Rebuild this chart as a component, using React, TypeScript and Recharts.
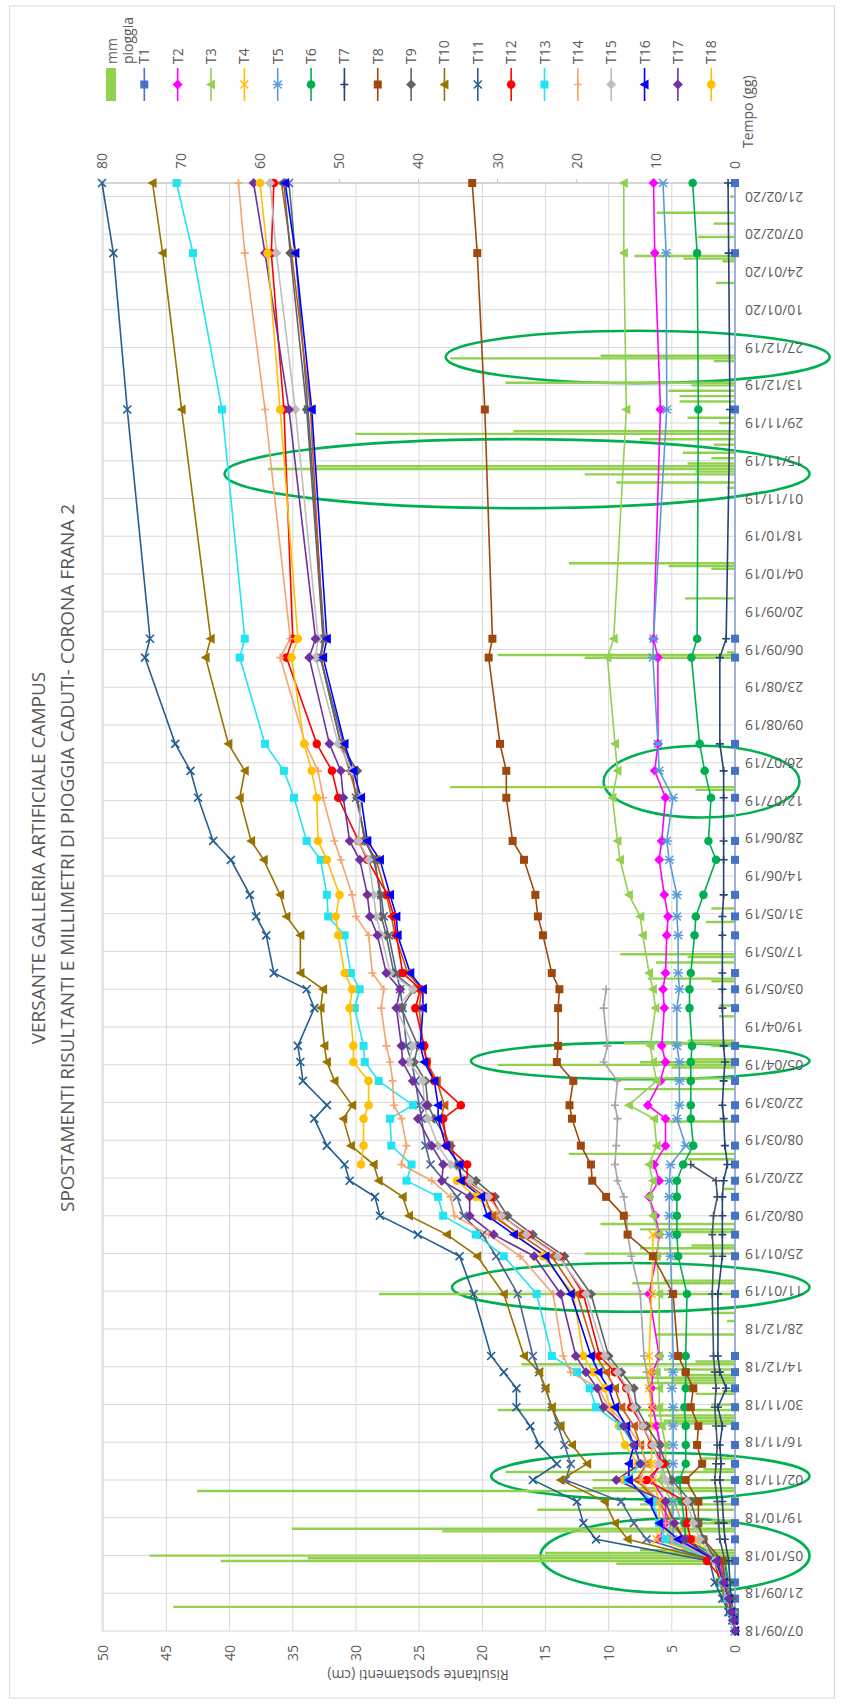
import React from "react";
import {
  Bar,
  CartesianGrid,
  ComposedChart,
  Line,
  ReferenceArea,
  XAxis,
  YAxis,
} from "recharts";

// chart is drawn landscape and turned a quarter turn to the left
const W = 1704;
const H = 842;
const _ = null;

const DATE_LABELS = [
  "07/09/18", "21/09/18", "05/10/18", "19/10/18", "02/11/18", "16/11/18", "30/11/18",
  "14/12/18", "28/12/18", "11/01/19", "25/01/19", "08/02/19", "22/02/19", "08/03/19",
  "22/03/19", "05/04/19", "19/04/19", "03/05/19", "17/05/19", "31/05/19", "14/06/19",
  "28/06/19", "12/07/19", "26/07/19", "09/08/19", "23/08/19", "06/09/19", "20/09/19",
  "04/10/19", "18/10/19", "01/11/19", "15/11/19", "29/11/19", "13/12/19", "27/12/19",
  "10/01/20", "24/01/20", "07/02/20", "21/02/20",
];
const CM_TICKS = [0, 5, 10, 15, 20, 25, 30, 35, 40, 45, 50];
const MM_TICKS = [0, 10, 20, 30, 40, 50, 60, 70, 80];

// survey days (days since 07/09/18)
const DAYS = [
  0, 4, 7, 12, 18, 26, 34, 40, 48, 56,
  62, 69, 76, 83, 90, 96, 102, 125, 139, 147,
  154, 161, 167, 173, 180, 190, 195, 204, 211, 217,
  231, 238, 244, 258, 265, 273, 286, 293, 309, 319,
  329, 361, 368, 453, 511, 537,
];

const T1 = [
  0, 0, 0, 0, 0, 0, 0, 0, 0, 0,
  0, 0, 0, 0, 0, 0, 0, 0, 0, 0,
  0, 0, 0, 0, 0, 0, 0, 0, 0, 0,
  0, 0, 0, 0, 0, 0, 0, 0, 0, 0,
  0, 0, 0, 0, 0, 0,
];
const T2 = [
  0, 0.2, 0.3, 0.5, 0.8, 1.2, 6.0, 5.5, 5.5, 6.6,
  6.0, 5.9, 6.2, 6.5, 6.6, 6.5, 6.0, 6.8, 6.2, 6.0,
  6.3, 6.8, 6.0, 6.4, 5.5, 5.5, 6.9, 5.9, 5.5, 5.8,
  5.6, 5.7, 5.5, 5.4, 5.3, 5.6, 6.0, 5.8, 5.5, 6.35,
  6.1, 6.1, 6.45, 5.9, 6.35, 6.45,
];
const T3 = [
  0, 0.1, 0.3, 0.5, 0.7, 1.0, 5.5, 5.0, 5.0, 6.0,
  5.5, 5.5, 5.8, 6.0, 6.0, 6.2, 6.0, 6.0, 6.2, 6.0,
  6.5, 6.8, 6.5, 6.8, 6.2, 6.4, 8.4, 6.2, 6.5, 6.7,
  6.3, 6.5, 6.8, 7.3, 7.5, 8.4, 9.1, 9.3, 9.7, 9.3,
  9.5, 10.1, 9.6, 8.6, 8.8, 8.8,
];
const T4 = [
  0, 0.1, 0.3, 0.5, 0.8, 1.0, 6.2, 6.0, 6.0, 6.5,
  6.6, 6.6, 6.7, 6.6, 6.8, 6.7, 6.8, 6.6, 6.5, 6.5,
  _, _, _, _, _, _, _, _, _, _,
  _, _, _, _, _, _, _, _, _, _,
  _, _, _, _, _, _,
];
const T5 = [
  0, 0.1, 0.2, 0.4, 0.6, 1.0, 4.9, 4.9, 4.9, 4.9,
  4.9, 4.9, 4.9, 4.9, 5.0, 4.9, 4.9, 5.0, 5.1, 5.2,
  5.2, 5.2, 5.2, 5.1, 3.9, 4.6, 4.4, 4.4, 4.4, 4.6,
  4.6, 4.4, 4.5, 4.5, 4.6, 4.6, 5.2, 5.4, 4.9, 6.0,
  6.1, 6.5, 6.45, 5.4, 5.45, 5.7,
];
const T6 = [
  0, 0.1, 0.2, 0.3, 0.5, 0.8, 3.9, 4.0, 4.2, 4.4,
  3.9, 3.9, 3.9, 4.0, 3.9, 3.9, 3.9, 3.8, 4.5, 4.6,
  4.6, 4.6, 4.6, 4.1, 3.3, 3.5, 3.5, 3.5, 3.5, 3.4,
  3.6, 3.6, 3.5, 3.2, 3.1, 2.5, 1.5, 2.1, 1.9, 2.4,
  2.8, 3.45, 3.0, 2.9, 3.0, 3.35,
];
const T7 = [
  0, 0.1, 0.2, 0.3, 0.4, 0.5, 0.8, 0.9, 1.0, 1.2,
  1.1, 1.2, 1.0, 1.35, 0.7, 1.2, 1.35, 1.35, 1.0, 1.0,
  1.0, 1.0, 0.9, 0.6, 0.8, 0.9, 1.0, 0.9, 0.8, 0.9,
  1.0, 1.0, 1.0, 1.0, 1.0, 0.9, 0.9, 0.9, 0.9, 0.9,
  1.2, 1.2, 0.7, 0.4, 0.5, 0.55,
];
const T8 = [
  0, 0.1, 0.2, 0.4, 0.8, 1.0, 2.5, 2.9, 2.9, 3.9,
  2.6, 3.0, 2.9, 3.5, 3.3, 3.9, 4.5, 4.9, 6.5, 8.5,
  8.8, 10.2, 11.3, 11.4, 12.2, 12.9, 13.1, 12.8, 14.1, 14.0,
  14.0, 13.9, 14.5, 15.2, 15.6, 15.8, 16.7, 17.6, 18.1, 18.1,
  18.6, 19.5, 19.2, 19.8, 20.4, 20.8,
];
const T9 = [
  0, 0.1, 0.2, 0.5, 0.8, 1.5, 2.5, 3.0, 3.5, 5.0,
  5.5, 6.0, 7.0, 7.8, 8.0, 9.0, 10.0, 11.4, 13.5, 16.0,
  18.0, 19.0, 20.5, 22.0, 22.5, 23.8, 24.3, 24.5, 25.4, 25.1,
  26.4, 25.4, 27.0, 27.6, 28.0, 28.1, 28.5, 29.3, 29.9, 29.9,
  31.2, 32.8, 32.6, 33.9, 35.2, 35.7,
];
const T10 = [
  0, 0.1, 0.4, 0.8, 1.2, 1.6, 8.5, 9.5, 10.3, 13.8,
  11.7, 12.9, 13.8, 14.5, 15.0, 15.5, 16.7, 18.3, 20.4, 22.8,
  25.8, 26.3, 28.2, 28.6, 30.4, 31.0, 30.3, 31.7, 32.3, 32.5,
  32.8, 32.6, 34.4, 34.4, 35.5, 36.0, 37.3, 38.3, 39.2, 38.8,
  40.1, 41.9, 41.5, 43.8, 45.3, 46.1,
];
const T11 = [
  0, 0.2, 0.5, 1.0, 1.6, 2.0, 11.0, 12.0, 12.5, 16.0,
  14.1, 15.5, 16.2, 17.3, 17.3, 18.3, 19.3, 20.7, 21.8, 25.1,
  28.1, 28.5, 30.5, 30.9, 32.3, 33.3, 32.3, 34.2, 34.4, 34.6,
  33.3, 33.9, 36.5, 37.1, 37.9, 38.4, 39.9, 41.3, 42.5, 43.1,
  44.3, 46.7, 46.3, 48.1, 49.2, 50.1,
];
const T12 = [
  0, 0.1, 0.3, 0.5, 0.8, 2.2, 3.5, 3.8, 3.9, 7.0,
  5.7, 6.6, 7.3, 8.2, 8.6, 9.5, 10.7, 12.0, 13.9, 16.4,
  18.5, 19.3, 21.2, 21.2, 22.8, 23.1, 21.7, 23.8, 24.4, 24.6,
  25.3, 24.9, 26.3, 26.8, 27.0, 27.5, 29.1, 29.8, 31.4, 31.9,
  33.1, 35.5, 35.0, 35.7, 36.7, 36.5,
];
const T13 = [
  0, 0.1, 0.3, 0.6, 1.0, 1.5, 5.5, 6.0, 6.5, 8.5,
  7.5, 8.0, 9.0, 11.0, 11.5, 12.5, 14.5, 15.7, 18.3, 20.5,
  23.1, 23.5, 26.0, 25.6, 27.2, 27.3, 25.5, 28.2, 29.3, 29.4,
  30.1, 29.7, 30.4, 30.9, 32.2, 32.3, 32.8, 33.9, 34.9, 35.7,
  37.2, 39.2, 38.8, 40.6, 42.9, 44.2,
];
const T14 = [
  0, 0.1, 0.3, 0.6, 1.0, 1.5, 5.0, 5.5, 6.0, 7.5,
  7.0, 7.5, 8.5, 10.0, 10.8, 13.0, 13.6, 14.4, 17.0, 19.5,
  22.2, 22.5, 24.0, 26.4, 26.0, 26.4, 27.0, 27.1, 27.3, 27.6,
  28.0, 27.8, 28.7, 29.0, 30.0, 30.3, 31.2, 31.7, 32.6, 33.0,
  34.0, 36.0, 35.2, 37.2, 38.8, 39.3,
];
const T15 = [
  0, 0.1, 0.2, 0.5, 0.8, 1.6, 2.8, 3.3, 3.8, 5.5,
  6.0, 6.5, 7.3, 8.0, 8.5, 9.3, 10.3, 11.8, 14.0, 16.5,
  18.5, 19.5, 21.0, 22.5, 23.5, 24.3, 24.6, 24.7, 25.8, 25.5,
  26.8, 25.5, 27.3, 28.0, 28.4, 28.6, 29.0, 29.8, 29.6, 30.3,
  31.4, 33.2, 33.0, 34.8, 36.3, 36.8,
];
const T16 = [
  0, 0.1, 0.3, 0.5, 0.9, 1.5, 4.5, 6.0, 6.8, 8.4,
  8.4, 8.0, 8.6, 9.5, 10.0, 10.8, 11.4, 13.0, 15.0, 17.5,
  19.6, 20.1, 21.7, 21.8, 22.9, 23.5, 23.5, 23.8, 24.6, 24.9,
  24.7, 24.7, 25.7, 26.7, 26.8, 27.3, 28.1, 29.1, 29.6, 30.2,
  30.9, 32.6, 32.3, 33.5, 34.8, 35.6,
];
const T17 = [
  0, 0.1, 0.3, 0.5, 0.9, 1.4, 4.0, 4.8, 5.5, 9.4,
  7.5, 8.0, 8.8, 10.4, 10.9, 11.8, 12.6, 13.8, 15.9, 19.1,
  21.0, 21.0, 23.2, 23.1, 24.0, 25.1, 24.4, 25.5, 26.3, 26.4,
  26.8, 26.5, 27.6, 28.3, 28.9, 29.1, 29.7, 30.5, 31.0, 31.2,
  32.1, 33.7, 33.2, 35.3, 37.2, 38.1,
];
const T18 = [
  _, _, _, _, _, _, _, _, _, _,
  _, _, _, _, _, _, _, _, _, _,
  _, _, _, 29.6, 29.4, 29.4, 29.0, 29.0, 30.2, 30.2,
  30.5, 30.3, 30.9, 31.4, 31.6, 31.3, 32.3, 33.0, 33.1, 33.5,
  34.1, 35.1, 34.6, 36.0, 37.0, 37.6,
];

// unlabelled tracks visible in the plot (no legend entry)
const GOLD_EARLY = [
  0, 0.1, 0.3, 0.5, 0.9, 1.3, 3.3, 4.9, 5.6, 8.8,
  7.7, 8.7, 9.2, 9.9, 10.3, 11.2, 12.0, 12.8, 15.2, 17.3,
  18.8, 20.5, 22.0, _, _, _, _, _, _, _,
  _, _, _, _, _, _, _, _, _, _,
  _, _, _, _, _, _,
];
const GRAY_OLD = [
  0, 0.1, 0.3, 0.5, 0.8, 1.5, 3.8, 4.2, 4.8, 5.5,
  5.8, 6.0, 6.2, 6.5, 6.8, 7.0, 7.2, 7.5, 8.2, 8.5,
  8.6, 8.8, 9.3, 9.5, 9.4, 9.3, 9.5, 9.3, 10.4, 10.1,
  10.4, 10.2, _, _, _, _, _, _, _, _,
  _, _, _, _, _, _,
];
const NAVY_OLD = [
  0, 0.1, 0.2, 0.4, 0.6, 0.8, 1.2, 1.3, 1.4, 1.6,
  1.5, 1.4, 1.5, 1.6, 1.5, 1.6, 1.7, 1.8, 1.7, 1.8,
  1.7, 1.4, 1.5, 3.5, _, _, _, _, _, _,
  _, _, _, _, _, _, _, _, _, _,
  _, _, _, _, _, _,
];
const SLATE = [
  0, 0.2, 0.5, 0.8, 1.2, 1.6, 7.0, 8.0, 9.0, 13.4,
  13.0, 13.5, 14.0, 14.5, 15.0, 15.5, 16.0, 17.2, 18.9, 20.0,
  21.5, 22.0, 23.0, 24.1, 24.5, 24.8, 25.0, 25.3, 25.6, 26.0,
  26.3, 26.5, 26.8, 27.4, 27.8, 28.0, 28.6, 29.2, 30.0, 30.3,
  31.0, 32.8, 32.5, 33.8, 34.8, 35.3,
];
const RUST = [
  0, 0.1, 0.3, 0.5, 0.9, 1.5, 4.0, 5.0, 6.0, 7.8,
  7.0, 7.5, 8.0, 9.0, 9.5, 10.2, 11.0, 12.5, 14.5, 17.0,
  19.2, 19.8, 21.5, 22.0, 22.6, 23.3, 23.0, 23.6, 24.4, 24.7,
  25.0, 24.8, 25.9, 26.9, 27.2, 27.6, 28.4, 29.3, 29.9, 30.5,
  31.2, 32.8, 32.6, 33.6, 35.1, 35.9,
];

// daily rain (mm)
const RAIN_DAYS = [
  9, 25, 26, 27, 28, 29, 30, 37, 38, 40, 41, 45, 47, 52, 53, 56, 59, 60, 64,
  77, 78, 79, 80, 82, 84, 88, 89, 92, 93, 94, 95, 97, 99, 100, 110, 115, 118,
  125, 129, 130, 140, 142, 143, 148, 149, 151, 164, 175, 177, 189, 201, 205,
  209, 210, 211, 212, 217, 218, 219, 228, 232, 241, 242, 248, 250, 251, 263,
  268, 312, 313, 361, 362, 363, 383, 394, 395, 396, 424, 426, 429, 430, 431,
  432, 433, 435, 437, 440, 442, 444, 445, 448, 450, 456, 458, 460, 462, 463,
  471, 472, 473, 500, 508, 509, 510, 517, 522, 526, 532,
];
const RAIN_MM = [
  71, 15, 65, 54, 74, 24, 12, 37, 56, 5, 3, 25, 12, 68, 18, 18, 29, 4, 4.5,
  12, 9, 8, 11, 30, 3, 5, 1.6, 11, 8, 14, 6, 9, 27, 5, 10, 1, 3,
  45, 13, 9, 19, 12, 5.5, 8, 12, 17, 1.4, 6, 21, 9, 14, 15,
  8, 30, 12, 6, 3, 14, 6, 2, 2, 3, 11, 10, 6, 14.5, 3.7,
  3, 5, 36, 19, 30, 1, 6.3, 3, 8.4, 21, 1, 15, 19, 5, 59,
  53, 6, 3, 6.6, 2.7, 12, 48, 28, 2, 6, 7, 7, 8.4, 5.5, 29,
  2.7, 36, 17, 2.4, 1.6, 6.5, 12.7, 4.7, 2.7, 9.9, 0.6,
];

// hand-drawn green ellipses: [dayFrom, dayTo, cmFrom, cmTo]
const HIGHLIGHTS = [
  [462.8, 482.2, -7.5, 22.9],
  [416.4, 442, -5.9, 40.4],
  [301.7, 328.3, -5.1, 10.4],
  [204.6, 218.2, -5.9, 20.9],
  [118.4, 136.5, -5.9, 22.4],
  [48.8, 66.1, -5.9, 19.3],
  [14.1, 41.7, -5.9, 15.4],
];

const SERIES = [
  { key: "gold0", values: GOLD_EARLY, color: "#FFC000", shape: "circle", legend: false },
  { key: "gray0", values: GRAY_OLD, color: "#A5A5A5", shape: "plus", legend: false },
  { key: "navy0", values: NAVY_OLD, color: "#44546A", shape: "plus", legend: false },
  { key: "slate", values: SLATE, color: "#4A6591", shape: "x", legend: false },
  { key: "rust", values: RUST, color: "#C55A11", shape: "triangle", legend: false },
  { key: "T1", values: T1, color: "#4472C4", shape: "square", legend: true },
  { key: "T2", values: T2, color: "#FF00FF", shape: "diamond", legend: true },
  { key: "T3", values: T3, color: "#92D050", shape: "triangle", legend: true },
  { key: "T4", values: T4, color: "#FFC000", shape: "x", legend: true },
  { key: "T5", values: T5, color: "#5B9BD5", shape: "star", legend: true },
  { key: "T6", values: T6, color: "#00B050", shape: "circle", legend: true },
  { key: "T7", values: T7, color: "#264478", shape: "plus", legend: true },
  { key: "T8", values: T8, color: "#9E480E", shape: "square", legend: true },
  { key: "T9", values: T9, color: "#636363", shape: "diamond", legend: true },
  { key: "T10", values: T10, color: "#997300", shape: "triangle", legend: true },
  { key: "T11", values: T11, color: "#255E91", shape: "x", legend: true },
  { key: "T12", values: T12, color: "#FF0000", shape: "circle", legend: true },
  { key: "T13", values: T13, color: "#22E3F2", shape: "square", legend: true },
  { key: "T14", values: T14, color: "#F4A46E", shape: "plus", legend: true },
  { key: "T15", values: T15, color: "#BDBDBD", shape: "diamond", legend: true },
  { key: "T16", values: T16, color: "#0000FF", shape: "triangle", legend: true },
  { key: "T17", values: T17, color: "#7030A0", shape: "diamond", legend: true },
  { key: "T18", values: T18, color: "#FFC000", shape: "circle", legend: true },
];

const byDay = new Map<number, any>();
const rowAt = (d: number) => {
  if (!byDay.has(d)) byDay.set(d, { day: d });
  return byDay.get(d);
};
DAYS.forEach((d, i) => {
  SERIES.forEach((s) => {
    const v = s.values[i];
    if (v != null) rowAt(d)[s.key] = v;
  });
});
RAIN_DAYS.forEach((d, i) => {
  rowAt(d).mm = RAIN_MM[i];
});
const rows = [...byDay.values()].sort((a, b) => a.day - b.day);

const TEXT = "#595959";
const GRID = "#D9D9D9";

function Mark({ shape, x, y, color }: { shape: string; x: number; y: number; color: string }) {
  switch (shape) {
    case "square":
      return <rect x={x - 4} y={y - 4} width={8} height={8} fill={color} />;
    case "diamond":
      return <polygon points={`${x},${y - 5} ${x + 5},${y} ${x},${y + 5} ${x - 5},${y}`} fill={color} />;
    case "triangle":
      return <polygon points={`${x},${y - 5} ${x + 5},${y + 4} ${x - 5},${y + 4}`} fill={color} />;
    case "circle":
      return <circle cx={x} cy={y} r={4.3} fill={color} />;
    case "x":
      return (
        <path d={`M${x - 4},${y - 4}L${x + 4},${y + 4}M${x + 4},${y - 4}L${x - 4},${y + 4}`}
          stroke={color} strokeWidth={1.6} fill="none" />
      );
    case "star":
      return (
        <path d={`M${x - 4},${y - 4}L${x + 4},${y + 4}M${x + 4},${y - 4}L${x - 4},${y + 4}M${x},${y - 5}V${y + 5}`}
          stroke={color} strokeWidth={1.5} fill="none" />
      );
    default:
      return (
        <path d={`M${x - 4},${y}H${x + 4}M${x},${y - 4}V${y + 4}`} stroke={color} strokeWidth={1.6} fill="none" />
      );
  }
}

const DateTick = ({ x, y, payload }: any) => (
  <text
    transform={`translate(${x},${y}) rotate(-90)`}
    textAnchor="end"
    dy="0.35em"
    fontSize={14}
    fill={TEXT}
  >
    {DATE_LABELS[Math.round(payload.value / 14)]}
  </text>
);

const ellipseShape = (p: any) => (
  <ellipse
    cx={p.x + p.width / 2}
    cy={p.y + p.height / 2}
    rx={Math.abs(p.width) / 2}
    ry={Math.abs(p.height) / 2}
    fill="none"
    stroke="#00B050"
    strokeWidth={2.6}
  />
);

function Legend() {
  const items = SERIES.filter((s) => s.legend);
  return (
    <g>
      <rect x={1603} y={106} width={33} height={10} fill="#92D050" />
      <text x={1640} y={117} fontSize={14} fill={TEXT}>mm</text>
      <text x={1640} y={133} fontSize={14} fill={TEXT}>pioggia</text>
      {items.map((s, i) => {
        const cy = 144.3 + i * 33.35;
        return (
          <g key={s.key}>
            <line x1={1603} x2={1636} y1={cy} y2={cy} stroke={s.color} strokeWidth={1.6} />
            <Mark shape={s.shape} x={1619.5} y={cy} color={s.color} />
            <text x={1640} y={cy + 5} fontSize={14} fill={TEXT}>{s.key}</text>
          </g>
        );
      })}
    </g>
  );
}

export default function App() {
  return (
    <div style={{ position: "absolute", left: 0, top: 0, width: 842, height: 1704, background: "#fff", overflow: "hidden" }}>
      <div
        style={{
          position: "absolute",
          left: 0,
          top: 0,
          width: W,
          height: H,
          transformOrigin: "0 0",
          transform: `translate(0px, ${W}px) rotate(-90deg)`,
          fontFamily: "'Open Sans', 'Noto Sans', sans-serif",
        }}
      >
        <ComposedChart width={W} height={H} data={rows} margin={{ top: 102, right: 123, bottom: 27, left: 13 }}>
          <CartesianGrid yAxisId="cm" stroke={GRID} strokeWidth={1} />
          <XAxis
            dataKey="day"
            type="number"
            domain={[0, 537]}
            ticks={DATE_LABELS.map((_l, i) => i * 14)}
            tick={<DateTick />}
            tickLine={false}
            tickSize={0}
            tickMargin={10}
            height={80}
            axisLine={{ stroke: GRID }}
            interval={0}
          />
          <YAxis
            yAxisId="cm"
            orientation="left"
            domain={[0, 50]}
            ticks={CM_TICKS}
            width={60}
            axisLine={false}
            tickLine={false}
            tickSize={0}
            tickMargin={14}
            tick={{ fontSize: 14, fill: TEXT }}
            interval={0}
          />
          <YAxis
            yAxisId="mm"
            orientation="right"
            domain={[0, 80]}
            ticks={MM_TICKS}
            width={60}
            axisLine={{ stroke: "#BFBFBF" }}
            tickLine={{ stroke: "#BFBFBF" }}
            tickSize={4}
            tickMargin={10}
            tick={{ fontSize: 14, fill: TEXT, textAnchor: "start" }}
            interval={0}
          />
          <Bar yAxisId="mm" dataKey="mm" fill="#92D050" barSize={3.5} isAnimationActive={false} />
          {SERIES.map((s) => (
            <Line
              key={s.key}
              yAxisId="cm"
              type="linear"
              dataKey={s.key}
              stroke={s.color}
              strokeWidth={1.6}
              connectNulls
              activeDot={false}
              isAnimationActive={false}
              legendType="none"
              dot={(p: any) =>
                p.value == null || p.cy == null ? (
                  <g key={`${s.key}-${p.index}`} />
                ) : (
                  <g key={`${s.key}-${p.index}`}>
                    <Mark shape={s.shape} x={p.cx} y={p.cy} color={s.color} />
                  </g>
                )
              }
            />
          ))}
          {HIGHLIGHTS.map(([d1, d2, c1, c2], i) => (
            <ReferenceArea
              key={i}
              yAxisId="cm"
              x1={d1}
              x2={d2}
              y1={c1}
              y2={c2}
              ifOverflow="visible"
              shape={ellipseShape}
            />
          ))}
        </ComposedChart>
        <svg width={W} height={H} style={{ position: "absolute", left: 0, top: 0, pointerEvents: "none" }}>
          <rect x={6} y={9.5} width={1692} height={825} fill="none" stroke={GRID} />
          <text x={846} y={45} textAnchor="middle" fontSize={19} fill={TEXT}>
            VERSANTE GALLERIA ARTIFICIALE CAMPUS
          </text>
          <text x={846} y={74} textAnchor="middle" fontSize={19} fill={TEXT}>
            SPOSTAMENTI RISULTANTI E MILLIMETRI DI PIOGGIA CADUTI- CORONA FRANA 2
          </text>
          <text transform="translate(34,418) rotate(-90)" textAnchor="middle" fontSize={14} fill={TEXT}>
            Risultante spostamenti (cm)
          </text>
          <text x={1556} y={753} fontSize={14} fill={TEXT}>Tempo (gg)</text>
          <Legend />
        </svg>
      </div>
    </div>
  );
}
